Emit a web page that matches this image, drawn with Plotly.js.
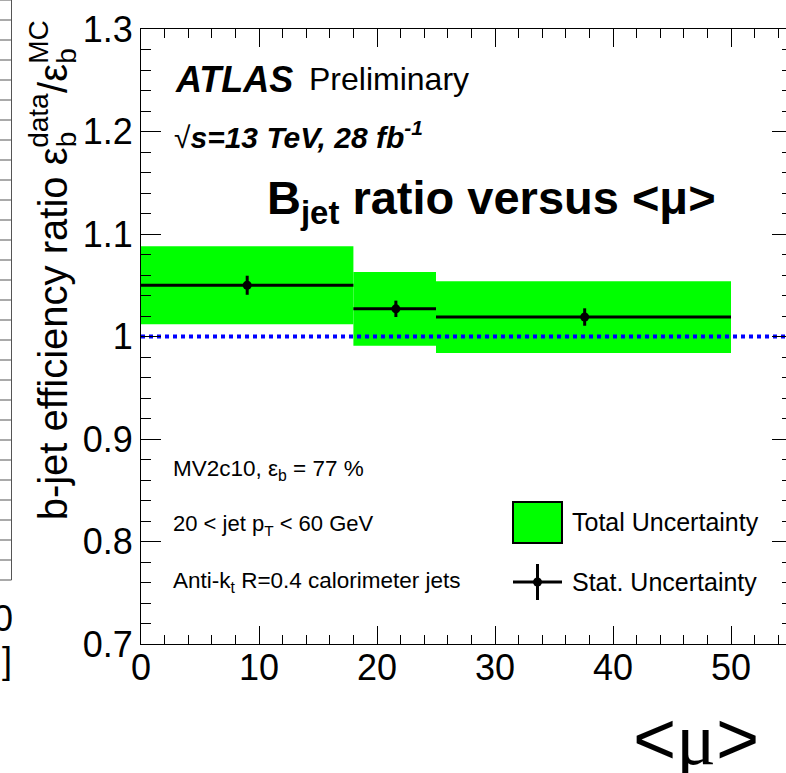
<!DOCTYPE html>
<html><head><meta charset="utf-8">
<script src="https://cdn.plot.ly/plotly-3.0.1.min.js"></script>
<style>html,body{margin:0;padding:0;overflow:hidden;background:#fff}#chart{width:792px;height:773px}</style>
</head><body><div id="chart"></div>
<script>
// ---- data ----
const binLow    = [0, 18, 25];
const binHigh   = [18, 25, 50];
const muMean    = [9.0, 21.6, 37.6];
const ratio     = [1.050, 1.027, 1.019];
const statErr   = [0.0093, 0.0080, 0.0085];
const totalLow  = [1.012, 0.991, 0.984];
const totalHigh = [1.088, 1.063, 1.054];
const refValue  = 1.0;
const yTickVals = [0.7, 0.8, 0.9, 1.0, 1.1, 1.2, 1.3];
const yTickText = ["0.7", "0.8", "0.9", "1", "1.1", "1.2", "1.3"];
const xTickVals = [0, 10, 20, 30, 40, 50];

// ---- geometry ----
const W = 792, H = 773, L = 141, R = 0, T = 29, B = 129;
const PW = W - L - R, PH = H - T - B;
const XMAX = PW / 11.8;
function px(x){ return (x - L) / PW; }
function py(y){ return 1 - (y - T) / PH; }

const FONT = 'Liberation Sans, Arial, sans-serif';
const cv = document.createElement('canvas').getContext('2d');
function tw(text, size, weight){ cv.font = (weight||'normal') + ' ' + size + 'px "Liberation Sans"'; return cv.measureText(text).width; }

// ---- traces ----
const centers = binLow.map((lo, i) => (lo + binHigh[i]) / 2);
const widths  = binLow.map((lo, i) => binHigh[i] - lo);
const boxTrace = {
  type: 'bar', x: centers, width: widths, base: totalLow,
  y: totalHigh.map((h, i) => h - totalLow[i]),
  marker: {color: '#00ff00', line: {width: 0}}, hoverinfo: 'skip', showlegend: false
};
const refTrace = {
  type: 'scatter', mode: 'lines', x: [0, XMAX], y: [refValue, refValue],
  line: {color: '#0000ff', width: 4, dash: '4px,4px'}, hoverinfo: 'skip', showlegend: false
};
const dataTrace = {
  type: 'scatter', mode: 'markers', x: muMean, y: ratio,
  marker: {color: '#000', size: 9, symbol: 'circle'},
  error_x: {type: 'data', symmetric: false,
            array: binHigh.map((h, i) => h - muMean[i]),
            arrayminus: muMean.map((m, i) => m - binLow[i]),
            width: 0, thickness: 3, color: '#000'},
  error_y: {type: 'data', array: statErr, width: 0, thickness: 3, color: '#000'},
  showlegend: false
};

// ---- annotations ----
const ann = [];
function A(o){ ann.push(Object.assign({xref:'paper', yref:'paper', showarrow:false, borderpad:0, borderwidth:0}, o)); }

A({x: px(175), y: py(79), xanchor:'left', yanchor:'middle', text:'<b><i>ATLAS</i></b>', font:{family:FONT, size:36, color:'#000'}});
A({x: px(309), y: py(79), xanchor:'left', yanchor:'middle', text:'Preliminary', font:{family:FONT, size:32, color:'#000'}});
A({x: px(174), y: py(135), xanchor:'left', yanchor:'middle', text:'√<b><i>s=13 TeV, 28 fb<sup>-1</sup></i></b>', font:{family:FONT, size:30, color:'#000'}});
A({x: px(267), y: py(201), xanchor:'left', yanchor:'middle', text:'<b>B<sub>jet</sub> ratio versus &lt;μ&gt;</b>', font:{family:FONT, size:47, color:'#000'}});

A({x: px(173), y: py(470), xanchor:'left', yanchor:'middle', text:'MV2c10, ε<sub>b</sub> = 77 %', font:{family:FONT, size:22.5, color:'#000'}});
A({x: px(173), y: py(525), xanchor:'left', yanchor:'middle', text:'20 &lt; jet p<sub>T</sub> &lt; 60 GeV', font:{family:FONT, size:22, color:'#000'}});
A({x: px(173), y: py(582), xanchor:'left', yanchor:'middle', text:'Anti-k<sub>t</sub> R=0.4 calorimeter jets', font:{family:FONT, size:22.5, color:'#000'}});

A({x: px(572), y: py(522), xanchor:'left', yanchor:'middle', text:'Total Uncertainty', font:{family:FONT, size:25, color:'#000'}});
A({x: px(572), y: py(582), xanchor:'left', yanchor:'middle', text:'Stat. Uncertainty', font:{family:FONT, size:25, color:'#000'}});

// x title
A({x: px(759), y: py(738), xanchor:'right', yanchor:'middle',
   text:'&lt;<span style="font-family:Liberation Serif, serif">μ</span>&gt;', font:{family:FONT, size:74, color:'#000'}});

// y title with stacked sub/superscripts (rotated, reading upward)
(function(){
  const F = 40, FS = 28;
  const xb = 66.6;
  const cOff = 0.3465;
  let y = 520;
  function piece(text, size, baseX, yc){
    A({x: px(baseX - cOff*size), y: py(yc), xanchor:'center', yanchor:'middle', textangle:-90,
       text: text, font:{family:FONT, size:size, color:'#000'}});
  }
  const main = 'b-jet efficiency ratio ε';
  let w = tw(main, F); piece(main, F, xb, y - w/2); y -= w;
  let wd = tw('data', FS), wb = tw('b', FS);
  piece('data', FS, xb - 18, y - wd/2); piece('b', FS, xb + 10, y - wb/2); y -= Math.max(wd, wb);
  w = tw('/ε', F); piece('/ε', F, xb, y - w/2); y -= w;
  let wm = tw('MC', FS);
  piece('MC', FS, xb - 18, y - wm/2); piece('b', FS, xb + 10, y - wb/2);
})();

// remnants of the neighbouring plot at the left edge
A({x: px(12.5), y: py(618), xanchor:'right', yanchor:'middle', text:'0', font:{family:FONT, size:36, color:'#000'}});
A({x: px(12), y: py(660), xanchor:'right', yanchor:'middle', text:']', font:{family:FONT, size:36, color:'#000'}});

// ---- shapes (legend symbols and left remnant) ----
const shapes = [];
function S(o){ shapes.push(Object.assign({xref:'paper', yref:'paper', layer:'above'}, o)); }
S({type:'rect', x0:px(513), x1:px(562), y0:py(502), y1:py(543), fillcolor:'#00ff00', line:{color:'#000', width:2}});
S({type:'line', x0:px(513), x1:px(562), y0:py(582), y1:py(582), line:{color:'#000', width:3}});
S({type:'line', x0:px(537.5), x1:px(537.5), y0:py(564), y1:py(600), line:{color:'#000', width:3}});
S({type:'circle', x0:px(533), x1:px(542), y0:py(577.5), y1:py(586.5), fillcolor:'#000', line:{color:'#000', width:0}});
S({type:'line', x0:px(11.5), x1:px(11.5), y0:py(0), y1:py(580), line:{color:'#555', width:1}});
for (let yy = 0; yy <= 580; yy += 20) {
  S({type:'line', x0:px(0), x1:px(11.5), y0:py(yy), y1:py(yy), line:{color:'#555', width:1}});
}

const axisCommon = {
  ticks:'inside', tickcolor:'#000', tickwidth:1, showline:true, linecolor:'#000', linewidth:1,
  mirror:'allticks', showgrid:false, zeroline:false, fixedrange:true,
  tickfont:{family:FONT, size:36, color:'#000'}
};
const layout = {
  width:W, height:H, margin:{l:L, r:R, t:T, b:B, pad:0},
  paper_bgcolor:'#fff', plot_bgcolor:'rgba(0,0,0,0)', showlegend:false,
  xaxis: Object.assign({}, axisCommon, {range:[0, XMAX], tickvals:xTickVals, ticklen:18, ticklabelstandoff:-8,
         minor:{dtick:2, tick0:0, ticklen:9, tickwidth:1, tickcolor:'#000', ticks:'inside'}}),
  yaxis: Object.assign({}, axisCommon, {range:[0.7, 1.3], tickvals:yTickVals, ticktext:yTickText, ticklen:20,
         minor:{dtick:0.02, tick0:0.7, ticklen:10, tickwidth:1, tickcolor:'#000', ticks:'inside'}}),
  annotations: ann, shapes: shapes
};
Plotly.newPlot('chart', [boxTrace, refTrace, dataTrace], layout, {displayModeBar:false, staticPlot:true});
</script></body></html>
